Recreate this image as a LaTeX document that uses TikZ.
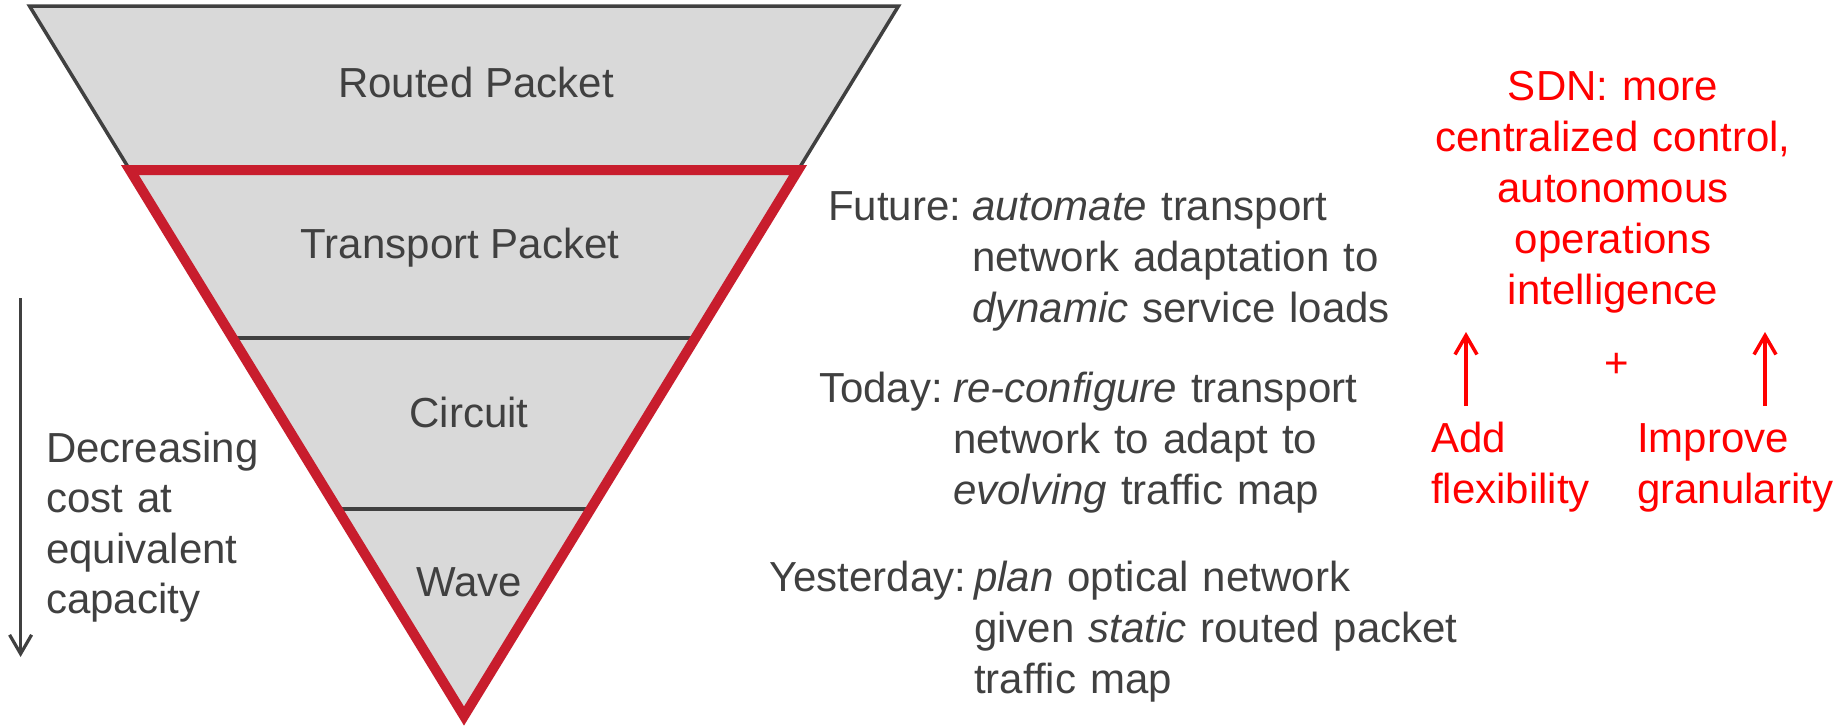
\documentclass[tikz,border=0pt]{standalone}
\usepackage{fontspec}
\setmainfont{Liberation Sans}
\usepackage{tikz}
\usetikzlibrary{calc, arrows.meta}

\definecolor{txtGray}{RGB}{64,64,64}
\definecolor{layerGray}{RGB}{217,217,217}
\definecolor{edgeRed}{RGB}{200,29,45}
\definecolor{sdnRed}{RGB}{255,0,0}

\begin{document}
\begin{tikzpicture}[
	x=1pt, y=-1pt,
	every node/.style={inner sep=0, font=\fontsize{42}{51}\selectfont},
	layer/.style={txtGray, anchor=base},
	when/.style={txtGray, anchor=base west},
	note/.style={txtGray, anchor=base west, align=left, text width=520pt},
	sdnTxt/.style={sdnRed, anchor=base, align=center, text width=420pt},
	addTxt/.style={sdnRed, anchor=base west, align=left, text width=220pt},
	grayLine/.style={txtGray, line width=3.5pt},
	redLine/.style={edgeRed, line width=10pt, line join=miter},
	arrow/.style={-{Straight Barb[length=19pt, width=22pt]}}
	]
	\useasboundingbox (0,0) rectangle (1848,728);
	
	\coordinate (TL) at (29.5, 6);
	\coordinate (TR) at (898.5, 6);
	\coordinate (V) at (464, 716);
	
	% Funnel
	\draw[grayLine, fill=layerGray] (TL) -- (TR) -- (V) -- cycle;
	\draw[grayLine] ($(TL)!.4676!(V)$) -- ($(TR)!.4676!(V)$);
	\draw[grayLine] ($(TL)!.7085!(V)$) -- ($(TR)!.7085!(V)$);
	\draw[redLine] ($(TL)!.231!(V)$) -- ($(TR)!.231!(V)$) -- (V) -- cycle;
	
	\node[layer] (routed) at (476, 97) {Routed Packet};
	\node[layer] (transport) at (460, 258) {Transport Packet};
	\node[layer] (circuit) at (469, 427) {Circuit};
	\node[layer] (wave) at (469, 596) {Wave};
	
	% Cost
	\coordinate (costTop) at (20.6, 298);
	\coordinate (costEnd) at (20.6, 657);
	\draw[txtGray, line width=3.2pt, arrow] (costTop) -- (costEnd);
	\node[note, text width=260pt, font=\fontsize{42}{50.5}\selectfont] (cost) at (46, 462) {Decreasing\\cost at\\equivalent\\capacity};
	
	% Timeline
	\node[when] (future) at (828, 220) {Future:};
	\node[note] (futureTxt) at (972, 220) {\emph{automate} transport\\network adaptation to\\\emph{dynamic} service loads};
	\node[when] (today) at (819, 402) {Today:};
	\node[note] (todayTxt) at (953, 402) {\emph{re-configure} transport\\network to adapt to\\\emph{evolving} traffic map};
	\node[when] (yesterday) at (769, 591) {Yesterday:};
	\node[note] (yesterdayTxt) at (974, 591) {\emph{plan} optical network\\given \emph{static} routed packet\\traffic map};
	
	% SDN
	\node[sdnTxt] (sdn) at (1613, 100) {SDN: more\\centralized control,\\autonomous\\operations\\intelligence};
	\node[addTxt] (flex) at (1431, 452) {Add\\flexibility};
	\node[addTxt] (gran) at (1637, 452) {Improve\\granularity};
	\node[sdnRed] (plus) at (1617, 365) {+};
	\coordinate (flexFoot) at (1466, 406);
	\coordinate (flexTip) at (1466, 332);
	\coordinate (granFoot) at (1765, 406);
	\coordinate (granTip) at (1765, 332);
	\draw[sdnRed, line width=3.5pt, arrow] (flexFoot) -- (flexTip);
	\draw[sdnRed, line width=3.5pt, arrow] (granFoot) -- (granTip);
\end{tikzpicture}
\end{document}
